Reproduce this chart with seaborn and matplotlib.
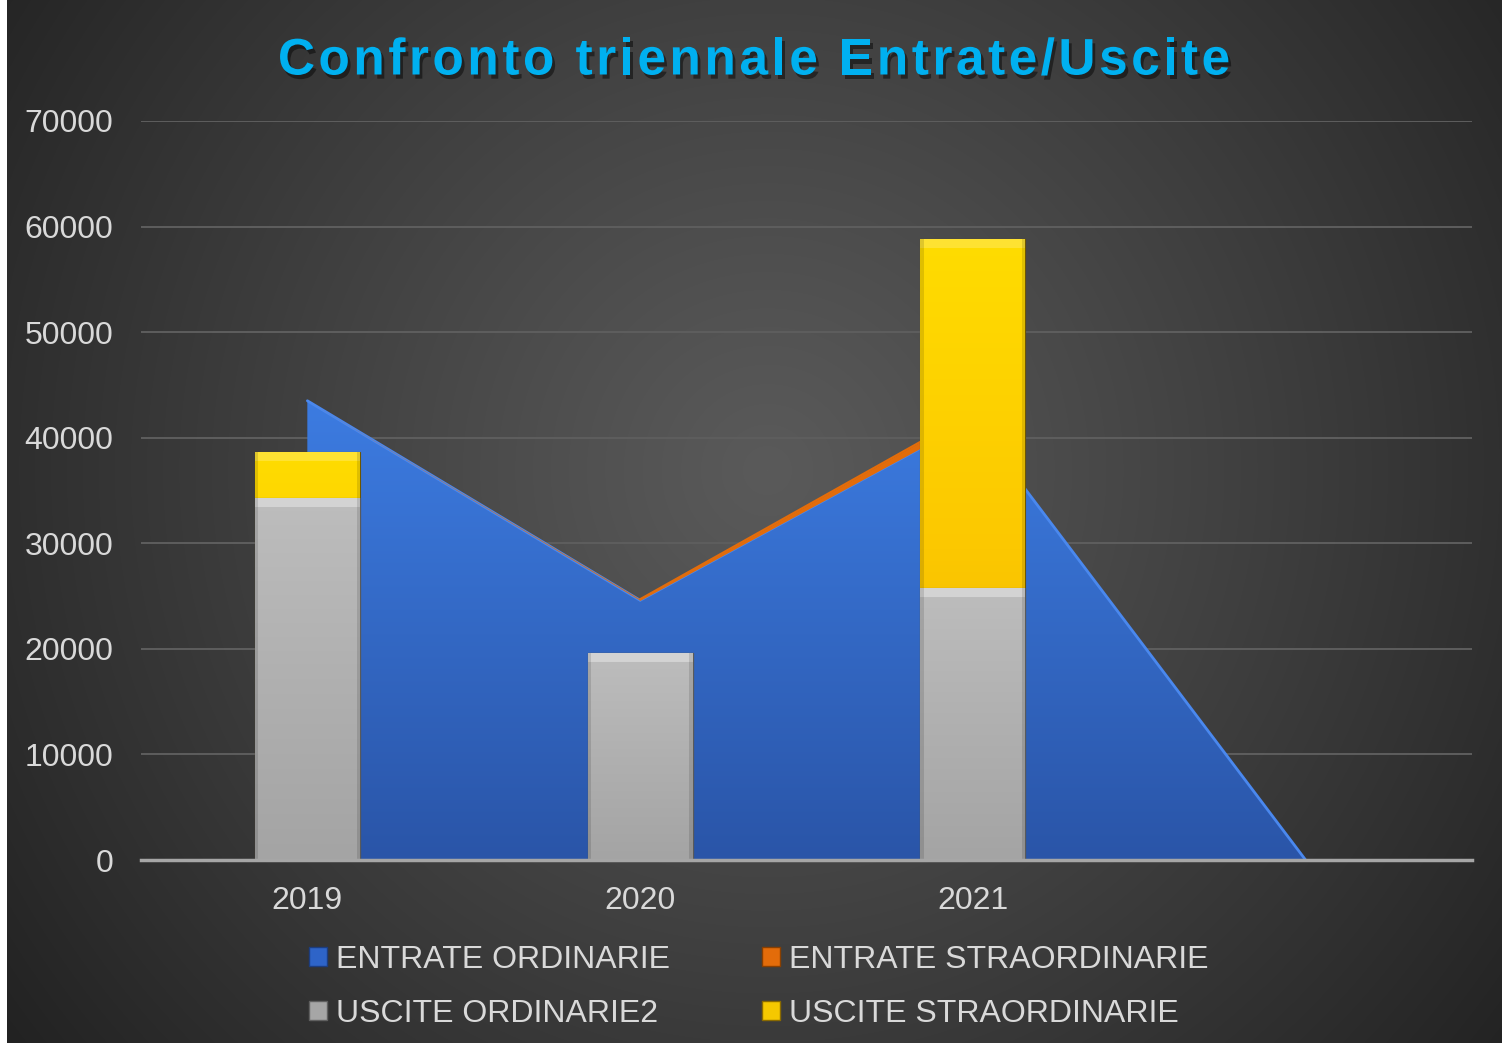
import numpy as np
import pandas as pd
import matplotlib
matplotlib.use("Agg")
import matplotlib.pyplot as plt
import seaborn as sns
from matplotlib import patheffects as pe
from matplotlib.patches import Rectangle, Patch
from matplotlib.colors import LinearSegmentedColormap

# ---- data ----
categories = ["2019", "2020", "2021", ""]
entrate_ordinarie = [43500, 24600, 41700, 0]
entrate_straordinarie = [0, 100, 700, 0]
uscite_ordinarie = [34300, 19600, 25800]
uscite_straordinarie = [4300, 0, 33000]
bar_years = ["2019", "2020", "2021"]
yticks = [0, 10000, 20000, 30000, 40000, 50000, 60000, 70000]
title = "Confronto triennale Entrate/Uscite"
legend_labels = ["ENTRATE ORDINARIE", "ENTRATE STRAORDINARIE",
                 "USCITE ORDINARIE2", "USCITE STRAORDINARIE"]

W, H = 1507, 1043
sns.set_theme(style="dark")
plt.rcParams["font.family"] = ["Liberation Sans", "DejaVu Sans"]

fig = plt.figure(figsize=(W / 100, H / 100), dpi=100, facecolor="white")

# background panel with radial gradient
bg = fig.add_axes([7 / W, 0, (1502 - 7) / W, 1])
bg.set_axis_off()
yy, xx = np.mgrid[0:H, 0:(1502 - 7)]
cx, cy = 760, 470
r = np.sqrt((xx - cx) ** 2 + (yy - cy) ** 2)
r = r / r.max()
c0 = np.array([0x5a, 0x5a, 0x5a]) / 255
c1 = np.array([0x22, 0x22, 0x22]) / 255
t = np.clip(r ** 1.1, 0, 1)[..., None]
img = c0 * (1 - t) + c1 * t
bg.imshow(img, aspect="auto", extent=[0, 1, 0, 1], origin="upper")
bg.set_xlim(0, 1)
bg.set_ylim(0, 1)

ax = fig.add_axes([141 / W, (H - 860) / H, (1472 - 141) / W, (860 - 121) / H])
ax.patch.set_alpha(0)

x = np.arange(len(categories))
eo = np.array(entrate_ordinarie, float)
es = np.array(entrate_straordinarie, float)

# stacked area (Entrate)
blue_top = "#3d7de3"
blue_bot = "#2a55a8"
poly = ax.fill_between(x, 0, eo, color=blue_top, lw=0, zorder=1)
grad = np.linspace(0, 1, 256)[:, None]
cmap_blue = LinearSegmentedColormap.from_list("b", [blue_top, blue_bot])
im = ax.imshow(grad, cmap=cmap_blue, aspect="auto", extent=[0, 3, 0, 45000],
               origin="upper", zorder=1.1)
im.set_clip_path(poly.get_paths()[0], transform=ax.transData)
ax.plot(x, eo, color="#4a88ee", lw=2.0, zorder=1.25, solid_joinstyle="miter")
ax.fill_between(x[:3], eo[:3], eo[:3] + es[:3], color="#e36c0a", lw=0, zorder=1.3)
ax.plot(x[1:3], (eo + es)[1:3], color="#e36c0a", lw=1.6, zorder=1.3)

# stacked bars (Uscite) via seaborn
df = pd.DataFrame({
    "anno": bar_years,
    "ord": uscite_ordinarie,
    "tot": np.array(uscite_ordinarie) + np.array(uscite_straordinarie),
})
sns.barplot(data=df, x="anno", y="tot", order=categories, color="#f5c000",
            width=0.315, saturation=1, ax=ax, zorder=3, edgecolor="#6e5600",
            linewidth=0.8)
n_first = len(ax.patches)
sns.barplot(data=df, x="anno", y="ord", order=categories, color="#b0b0b0",
            width=0.315, saturation=1, ax=ax, zorder=4, edgecolor="#5a5a5a",
            linewidth=0.8)

cmap_y = LinearSegmentedColormap.from_list("y", ["#ffdc00", "#fcc800", "#e8ad00"])
cmap_g = LinearSegmentedColormap.from_list("g", ["#bdbdbd", "#b0b0b0", "#a4a4a4"])
px = 70000 / (860 - 121)  # data units per pixel
for i, p in enumerate(list(ax.patches)):
    if p.get_height() <= 0 or np.isnan(p.get_height()):
        continue
    cm = cmap_y if i < n_first else cmap_g
    x0, y0 = p.get_x(), p.get_y()
    w, h = p.get_width(), p.get_height()
    z = p.get_zorder()
    gi = ax.imshow(grad, cmap=cm, aspect="auto", extent=[x0, x0 + w, y0, y0 + h],
                   origin="upper", zorder=z + 0.1)
    gi.set_clip_path(p)
    # bevel highlight at top
    ax.add_patch(Rectangle((x0, y0 + h - 9 * px), w, 9 * px, color="white",
                           alpha=0.35 if i >= n_first else 0.2, lw=0, zorder=z + 0.2))
    # darker side edges
    dw = w * 0.03
    ax.add_patch(Rectangle((x0, y0), dw, h, color="black", alpha=0.12, lw=0, zorder=z + 0.2))
    ax.add_patch(Rectangle((x0 + w - dw, y0), dw, h, color="black", alpha=0.12, lw=0, zorder=z + 0.2))

ax.set_xlim(-0.5, 3.5)
ax.set_ylim(0, 70000)
ax.set_yticks(yticks)
ax.set_yticklabels([str(v) for v in yticks])
ax.set_xticks(x)
ax.set_xticklabels(categories)
ax.set_xlabel("")
ax.set_ylabel("")
ax.tick_params(axis="both", length=0, labelsize=23, colors="#d9d9d9")
ax.tick_params(axis="y", pad=20)
ax.tick_params(axis="x", pad=19)
ax.yaxis.grid(True, color="#5e5e5e", lw=1.4, zorder=0)
ax.xaxis.grid(False)
for s in ["top", "right", "left"]:
    ax.spines[s].set_visible(False)
ax.spines["bottom"].set_color("#a6a6a6")
ax.spines["bottom"].set_linewidth(2.5)
ax.spines["bottom"].set_zorder(5)
ax.set_axisbelow(True)

# title with letter spacing
renderer = fig.canvas.get_renderer()
tprops = dict(fontsize=37, fontweight="bold", family="Liberation Sans")

def text_w(s):
    tt = fig.text(0, 0, s, **tprops)
    wpx = tt.get_window_extent(renderer).width
    tt.remove()
    return wpx

base = text_w("HH")
adv = [text_w("H" + c + "H") - base for c in title]
spacing = 3.5
total = sum(adv) + spacing * (len(title) - 1)
xpos = 754 - total / 2
shadow = [pe.withSimplePatchShadow(offset=(2, -3), shadow_rgbFace="black", alpha=0.45)]
for c, a in zip(title, adv):
    if c != " ":
        fig.text(xpos / W, 1 - 61 / H, c, ha="left", va="center", color="#00b0f0",
                 path_effects=shadow, **tprops)
    xpos += a + spacing

# legend (row-wise order as in reference)
handles = [Patch(facecolor="#2e64c8", edgecolor="#1c3d80"),
           Patch(facecolor="#e36c0a", edgecolor="#8a3f00"),
           Patch(facecolor="#a6a6a6", edgecolor="#606060"),
           Patch(facecolor="#f5c800", edgecolor="#8a6a00")]
order = [0, 2, 1, 3]
leg = fig.legend([handles[k] for k in order], [legend_labels[k] for k in order],
                 ncol=2, loc="center", bbox_to_anchor=(759 / W, 1 - 987 / H),
                 frameon=False, fontsize=23, labelcolor="#d9d9d9", handlelength=0.55,
                 handleheight=0.55, handletextpad=0.3, columnspacing=2.88, labelspacing=0.75)

fig.savefig("out.png", dpi=100, facecolor="white")
